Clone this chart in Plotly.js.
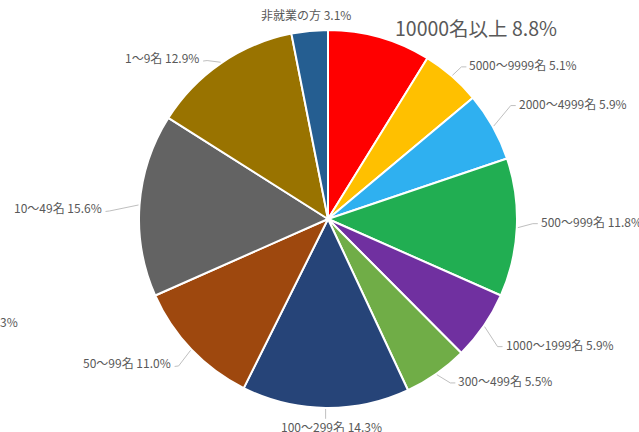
<!DOCTYPE html>
<html>
<head>
<meta charset="utf-8">
<script src="https://cdn.plot.ly/plotly-3.0.1.min.js"></script>
<style>html,body{margin:0;padding:0;background:#fff;}#chart{width:639px;height:432px;}</style>
</head>
<body>
<div id="chart"></div>
<script>
// Data
const categories = ["10000名以上","5000〜9999名","2000〜4999名","500〜999名","1000〜1999名","300〜499名","100〜299名","50〜99名","10〜49名","1〜9名","非就業の方"];
const shares = [8.8, 5.1, 5.9, 11.8, 5.9, 5.5, 14.3, 11.0, 15.6, 12.9, 3.1];
const clippedLabel = "3%";

// Style
const colors = ["#FF0000","#FFC000","#2FB0F0","#21AE52","#7030A0","#70AD47","#264478","#9E480E","#636363","#997300","#255E91"];
const W = 639, H = 432;
const cx = 328, cy = 219, R = 189;
// label placement relative to slice edge point: [dx, dy, side, leader]
const labelStyle = [
  [13, -9, "left", false],
  [15, -11, "left", true],
  [23, -23, "left", true],
  [21, -6.5, "left", true],
  [19, 17.5, "left", true],
  [19.5, 5.7, "left", true],
  [6, 17.8, "center", true],
  [-18, 12.7, "right", true],
  [-35, 3, "right", true],
  [-19.5, -4.7, "right", true],
  [-3.5, -15, "center", false]
];
const labelFontSize = [19.5,12,12,12,12,12,12,12,12,12,12];

const total = shares.reduce((a,b)=>a+b,0);
const px = x => x / W, py = y => 1 - y / H;

const annotations = [], shapes = [];
let cum = 0;
shares.forEach((v, i) => {
  const mid = (cum + v / 2) / total * 2 * Math.PI;
  cum += v;
  const ex = cx + (R + 1) * Math.sin(mid), ey = cy - (R + 1) * Math.cos(mid);
  const [dx, dy, side, leader] = labelStyle[i];
  const tx = ex + dx, ty = ey + dy;
  annotations.push({
    x: px(tx), y: py(ty), xref: "paper", yref: "paper",
    xanchor: side, yanchor: "middle", showarrow: false,
    text: categories[i] + " " + v.toFixed(1) + "%",
    font: {family: "Noto Sans CJK JP, Noto Sans, sans-serif", size: labelFontSize[i], color: "#595959"}
  });
  if (leader) {
    let pts;
    if (side === "left") {
      pts = [[ex, ey], [tx - 6, ty + 2.5], [tx - 1, ty + 2.5]];
    } else if (side === "right") {
      pts = [[ex, ey], [tx + 6, ty + 3], [tx + 2, ty + 3.5]];
    } else {
      pts = [[ex, ey], [ex, ty - 8]];
    }
    const path = pts.map((p, k) => (k ? "L" : "M") + px(p[0]) + "," + py(p[1])).join(" ");
    shapes.push({type: "path", xref: "paper", yref: "paper", path: path,
      line: {color: "#BFBFBF", width: 1}});
  }
});

annotations.push({
  x: px(-2), y: py(321), xref: "paper", yref: "paper", xanchor: "left", yanchor: "middle",
  showarrow: false, text: clippedLabel,
  font: {family: "Noto Sans CJK JP, Noto Sans, sans-serif", size: 12, color: "#595959"}
});

const trace = {
  type: "pie",
  labels: categories,
  values: shares,
  sort: false,
  direction: "clockwise",
  rotation: 0,
  textinfo: "none",
  hoverinfo: "label+percent",
  marker: {colors: colors, line: {color: "#FFFFFF", width: 2}},
  domain: {x: [(cx - R) / W, (cx + R) / W], y: [1 - (cy + R) / H, 1 - (cy - R) / H]}
};

Plotly.newPlot("chart", [trace], {
  width: W, height: H,
  margin: {l: 0, r: 0, t: 0, b: 0},
  showlegend: false,
  paper_bgcolor: "#FFFFFF",
  annotations: annotations,
  shapes: shapes
}, {displayModeBar: false, staticPlot: true});
</script>
</body>
</html>
